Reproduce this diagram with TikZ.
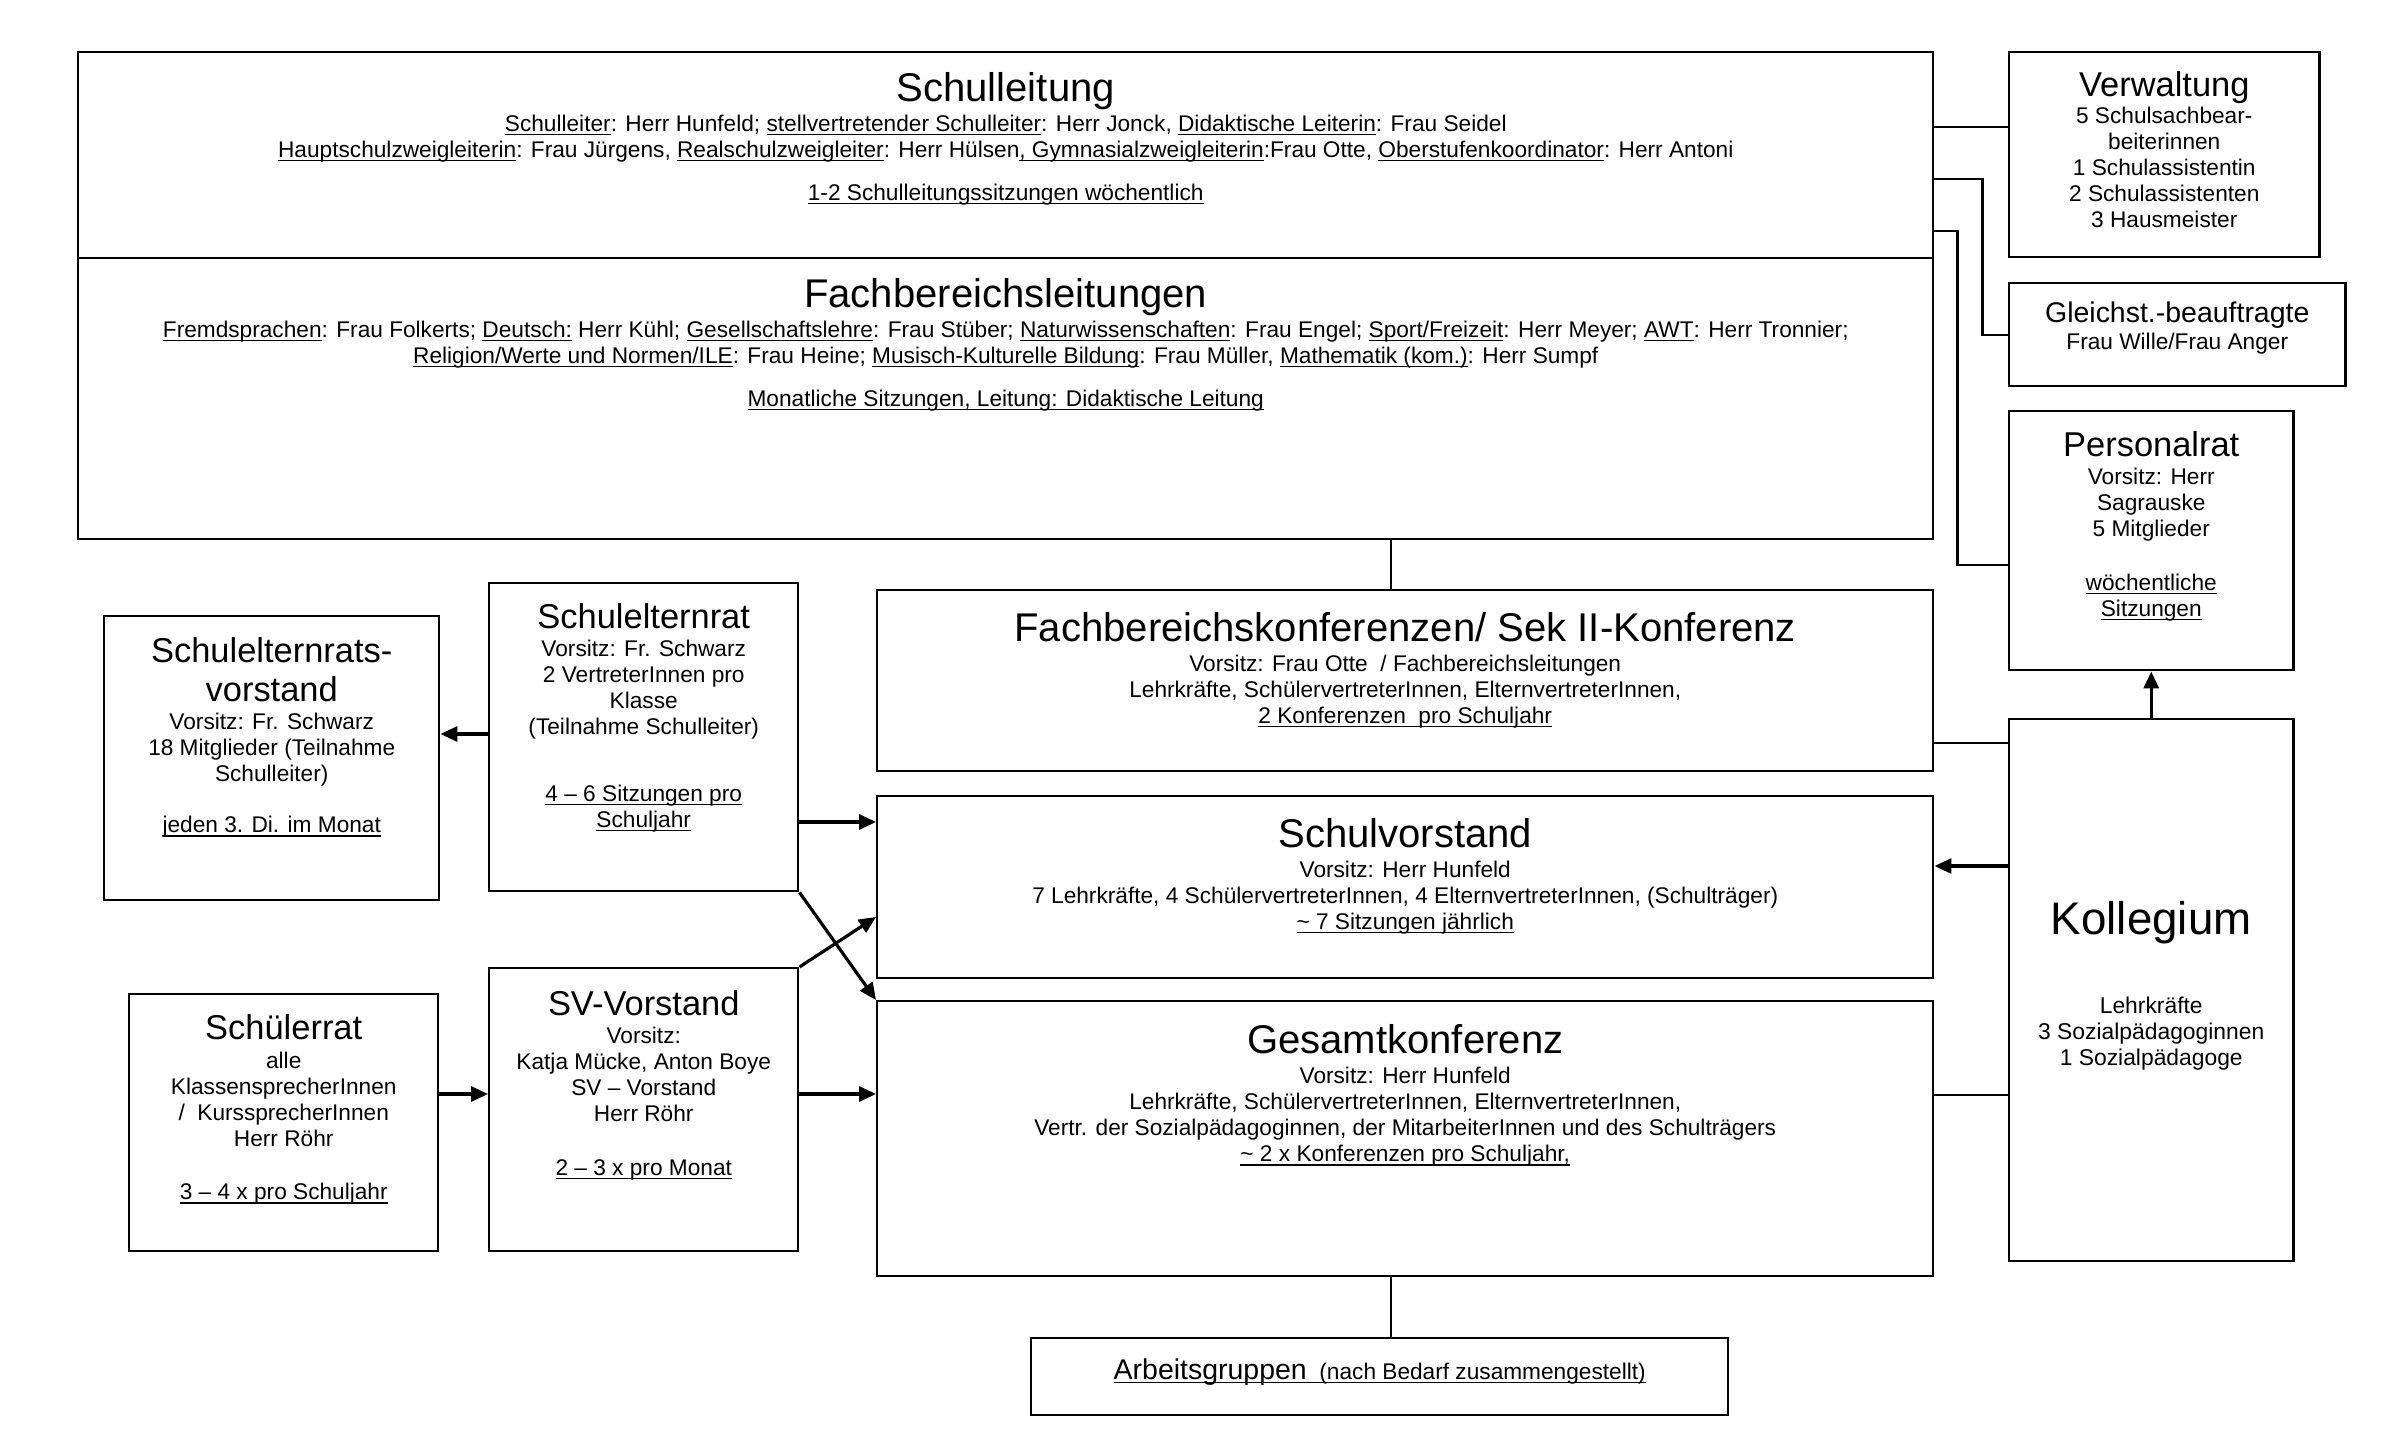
\documentclass[tikz,border=0pt]{standalone}
\usepackage{fontspec}
\setmainfont{Liberation Sans}
\usetikzlibrary{positioning,arrows.meta}
\newsavebox{\unterbox}
\newcommand{\unter}[1]{\sbox{\unterbox}{#1}\rlap{\rule[-1.1pt]{\wd\unterbox}{0.4pt}}\usebox{\unterbox}}
\newcommand{\titlehuge}{\fontsize{13}{15}\selectfont}
\newcommand{\titlebig}{\fontsize{11.4}{13}\selectfont}
\newcommand{\titlemid}{\fontsize{9.8}{11.5}\selectfont}
\newcommand{\titlesmall}{\fontsize{8.1}{9.5}\selectfont}

\begin{document}
\begin{tikzpicture}[
  box/.style={draw, line width=0.7pt, anchor=north west, inner sep=0pt},
  txt/.style={align=center, inner sep=0pt, font=\fontsize{6.45}{7.4}\selectfont},
  conn/.style={line width=0.6pt},
  arr/.style={line width=0.9pt, -{Triangle[length=0.17cm, width=0.15cm]}}
]
\useasboundingbox (0,0) rectangle (24,-14.53);

\node[box, minimum width=18.55cm, minimum height=2.06cm] (sl) at (0.77,-0.51) {};
\node[box, minimum width=18.55cm, minimum height=2.81cm] (fbl) at (0.77,-2.57) {};
\node[box, minimum width=3.10cm, minimum height=2.05cm] (verw) at (20.08,-0.51) {};
\node[box, minimum width=3.36cm, minimum height=1.03cm] (gleich) at (20.08,-2.82) {};
\node[box, minimum width=2.84cm, minimum height=2.59cm] (pr) at (20.08,-4.10) {};
\node[box, minimum width=2.84cm, minimum height=5.42cm] (koll) at (20.08,-7.18) {};
\node[box, minimum width=10.56cm, minimum height=1.81cm] (fbk) at (8.76,-5.89) {};
\node[box, minimum width=10.56cm, minimum height=1.82cm] (svst) at (8.76,-7.95) {};
\node[box, minimum width=10.56cm, minimum height=2.75cm] (gk) at (8.76,-10.00) {};
\node[box, minimum width=6.97cm, minimum height=0.77cm] (ag) at (10.30,-13.37) {};
\node[box, minimum width=3.35cm, minimum height=2.84cm] (serv) at (1.03,-6.15) {};
\node[box, minimum width=3.09cm, minimum height=3.08cm] (ser) at (4.88,-5.82) {};
\node[box, minimum width=3.09cm, minimum height=2.57cm] (sr) at (1.28,-9.93) {};
\node[box, minimum width=3.09cm, minimum height=2.83cm] (svv) at (4.88,-9.67) {};

\node[txt, below=0.21cm of sl.north] (sltxt) {{\titlebig Schulleitung}\\[1.1pt]
  \unter{Schulleiter}: Herr Hunfeld; \unter{stellvertretender Schulleiter}: Herr Jonck, \unter{Didaktische Leiterin}: Frau Seidel\\
  \unter{Hauptschulzweigleiterin}: Frau Jürgens, \unter{Realschulzweigleiter}: Herr Hülsen\unter{, Gymnasialzweigleiterin}:Frau Otte, \unter{Oberstufenkoordinator}: Herr Antoni\\[4.8pt]
  \unter{1-2 Schulleitungssitzungen wöchentlich}};
\node[txt, below=0.21cm of fbl.north] (fbltxt) {{\titlebig Fachbereichsleitungen}\\[1.1pt]
  \unter{Fremdsprachen}: Frau Folkerts; \unter{Deutsch:} Herr Kühl; \unter{Gesellschaftslehre}: Frau Stüber; \unter{Naturwissenschaften}: Frau Engel; \unter{Sport/Freizeit}: Herr Meyer; \unter{AWT}: Herr Tronnier;\\
  \unter{Religion/Werte und Normen/ILE}: Frau Heine; \unter{Musisch-Kulturelle Bildung}: Frau Müller, \unter{Mathematik (kom.)}: Herr Sumpf\\[4.8pt]
  \unter{Monatliche Sitzungen, Leitung: Didaktische Leitung}};
\node[txt, below=0.20cm of verw.north] (verwtxt) {{\titlemid Verwaltung}\\[0.3pt]
  5 Schulsachbear-\\ beiterinnen\\ 1 Schulassistentin\\ 2 Schulassistenten\\ 3 Hausmeister};
\node[txt, below=0.19cm of gleich.north] (gleichtxt) {{\titlesmall Gleichst.-beauftragte}\\[0.3pt]
  Frau Wille/Frau Anger};
\node[txt, below=0.21cm of pr.north] (prtxt) {{\titlemid Personalrat}\\[0.5pt]
  Vorsitz: Herr\\ Sagrauske\\ 5 Mitglieder\\[7.9pt] \unter{wöchentliche}\\ \unter{Sitzungen}};
\node[txt, below=0.23cm of fbk.north] (fbktxt) {{\titlebig Fachbereichskonferenzen/ Sek II-Konferenz}\\[1.1pt]
  Vorsitz: Frau Otte\ \ / Fachbereichsleitungen\\ Lehrkräfte, SchülervertreterInnen, ElternvertreterInnen,\\
  \unter{2 Konferenzen\ \ pro Schuljahr}};
\node[txt, below=0.23cm of svst.north] (svsttxt) {{\titlebig Schulvorstand}\\[1.1pt]
  Vorsitz: Herr Hunfeld\\ 7 Lehrkräfte, 4 SchülervertreterInnen, 4 ElternvertreterInnen, (Schulträger)\\
  \unter{\textasciitilde\ 7 Sitzungen jährlich}};
\node[txt, below=0.24cm of gk.north] (gktxt) {{\titlebig Gesamtkonferenz}\\[1.1pt]
  Vorsitz: Herr Hunfeld\\ Lehrkräfte, SchülervertreterInnen, ElternvertreterInnen,\\
  Vertr. der Sozialpädagoginnen, der MitarbeiterInnen und des Schulträgers\\
  \unter{\textasciitilde\ 2 x Konferenzen pro Schuljahr,}};
\node[txt, below=0.21cm of ag.north] (agtxt) {\unter{{\titlesmall Arbeitsgruppen}\ \ (nach Bedarf zusammengestellt)}};
\node[txt, below=0.22cm of serv.north] (servtxt) {{\titlemid Schulelternrats-}\\[3.6pt] {\titlemid vorstand}\\[0.5pt]
  Vorsitz: Fr. Schwarz\\ 18 Mitglieder (Teilnahme\\ Schulleiter)\\[7.3pt] \unter{jeden 3. Di. im Monat}};
\node[txt, below=0.21cm of ser.north] (sertxt) {{\titlemid Schulelternrat}\\[0.5pt]
  Vorsitz: Fr. Schwarz\\ 2 VertreterInnen pro\\ Klasse\\ (Teilnahme Schulleiter)\\[11.6pt]
  \unter{4 – 6 Sitzungen pro}\\ \unter{Schuljahr}};
\node[txt, below=0.21cm of sr.north] (srtxt) {{\titlemid Schülerrat}\\[0.7pt]
  alle\\ KlassensprecherInnen\\ /\ \ KurssprecherInnen\\ Herr Röhr\\[7.9pt] \unter{3 – 4 x pro Schuljahr}};
\node[txt, below=0.23cm of svv.north] (svvtxt) {{\titlemid SV-Vorstand}\\[0.5pt]
  Vorsitz:\\ Katja Mücke, Anton Boye\\ SV – Vorstand\\ Herr Röhr\\[7.9pt] \unter{2 – 3 x pro Monat}};
\node[txt, font=\fontsize{6.5}{7.4}\selectfont, below=1.83cm of koll.north] (kolltxt) {{\titlehuge Kollegium}\\[14pt]
  Lehrkräfte\\ 3 Sozialpädagoginnen\\ 1 Sozialpädagoge};

\draw[conn] ([yshift=-0.76cm]sl.north east) -- ([yshift=-0.76cm]verw.north west);
\draw[conn] ([yshift=-1.28cm]sl.north east) -- ++(0.48,0) |- (gleich.west);
\draw[conn] ([yshift=-1.80cm]sl.north east) -- ++(0.23,0) |- ([yshift=-1.55cm]pr.north west);
\draw[conn] ([xshift=-0.14cm]fbk.north) -- ([xshift=-0.14cm]fbk.north |- fbl.south);
\draw[conn] ([xshift=-0.14cm]gk.south) -- ([xshift=-0.14cm]gk.south |- ag.north);
\draw[arr] (koll.north) -- (pr.south);
\draw[conn] ([yshift=-0.25cm]koll.north west) -- ([yshift=-0.25cm]koll.north west -| fbk.east);
\draw[arr] ([yshift=-1.48cm]koll.north west) -- ([yshift=-1.48cm]koll.north west -| svst.east);
\draw[conn] ([yshift=-3.77cm]koll.north west) -- ([yshift=-3.77cm]koll.north west -| gk.east);
\draw[arr] ([yshift=-1.52cm]ser.north west) -- ([yshift=-1.52cm]ser.north west -| serv.east);
\draw[arr] ([yshift=-2.40cm]ser.north east) -- ([yshift=-2.40cm]ser.north east -| svst.west);
\draw[arr] (ser.south east) -- (gk.north west);
\draw[arr] (svv.north east) -- ([yshift=-1.22cm]svst.north west);
\draw[arr] ([yshift=-1.01cm]sr.north east) -- ([yshift=-1.01cm]sr.north east -| svv.west);
\draw[arr] ([yshift=-1.27cm]svv.north east) -- ([yshift=-1.27cm]svv.north east -| gk.west);
\end{tikzpicture}
\end{document}
